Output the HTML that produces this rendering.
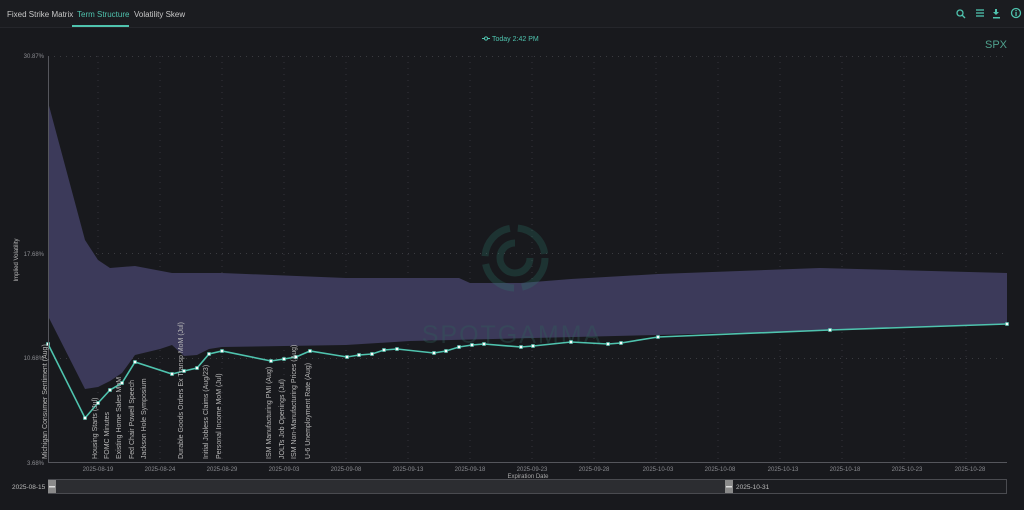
<!DOCTYPE html><html><head><meta charset="utf-8"><style>
body{margin:0;background:#18191d;width:1024px;height:505px;overflow:hidden;font-family:"Liberation Sans",sans-serif}
</style></head><body>
<svg width="1024" height="505" xmlns="http://www.w3.org/2000/svg" font-family="Liberation Sans, sans-serif">
<rect width="1024" height="505" fill="#18191d"/>
<rect width="1024" height="27" fill="#1b1c20"/>
<line x1="0" y1="27.5" x2="1024" y2="27.5" stroke="#25262b"/>
<text x="7" y="17" font-size="8" fill="#c8c8c8">Fixed Strike Matrix</text>
<text x="77" y="17" font-size="8" fill="#4fc3ae">Term Structure</text>
<rect x="72" y="25" width="57" height="2" fill="#4fc3ae"/>
<text x="134" y="17" font-size="8" fill="#c8c8c8">Volatility Skew</text>
<g fill="none" stroke="#4fc3ae" stroke-width="1.3">
<circle cx="960" cy="13" r="3"/><line x1="962" y1="15" x2="965" y2="18"/>
<line x1="976" y1="10" x2="984" y2="10"/><line x1="976" y1="13" x2="984" y2="13"/><line x1="976" y1="16" x2="984" y2="16"/>
<circle cx="1016" cy="13" r="4.5"/>
</g>
<path d="M995 9h2v3h2l-3 3-3-3h2z M993 17h7v1.5h-7z" fill="#4fc3ae"/>
<rect x="1015.4" y="12" width="1.3" height="4" fill="#4fc3ae"/><rect x="1015.4" y="10" width="1.3" height="1.2" fill="#4fc3ae"/>
<line x1="482" y1="38.5" x2="490" y2="38.5" stroke="#4fc3ae"/><circle cx="486" cy="38.5" r="1.6" fill="#18191d" stroke="#4fc3ae"/>
<text x="492" y="41" font-size="7" fill="#4fc3ae">Today 2:42 PM</text>
<text x="1007" y="48" font-size="11" fill="#4fa18e" text-anchor="end">SPX</text>
<g stroke="#3a3b40" stroke-dasharray="1 5" stroke-width="1">
<line x1="48" y1="56.5" x2="1007" y2="56.5"/><line x1="48" y1="253.5" x2="1007" y2="253.5"/><line x1="48" y1="358.5" x2="1007" y2="358.5"/>
</g>
<g stroke="#33343a" stroke-dasharray="1 5">
<path d="M98 56V462M160 56V462M222 56V462M284 56V462M346 56V462M408 56V462M470 56V462M532 56V462M594 56V462M656 56V462M718 56V462M780 56V462M842 56V462M904 56V462M966 56V462"/>
</g>
<path d="M48 102L85 240L98 260L110 268L135 266L172 273L222 273L346 278L396 278L459 278L470 283L521 283L571 279L658 274L820 268L1007 273L1007 324L830 330L658 335L410 341L346 345L222 347L209 349L197 355L184 356L172 345L160 349L135 355L122 373L110 381L98 387L85 389L48 316Z" fill="#3c3a5a"/>
<g opacity="0.25" fill="none" stroke="#2f8070" stroke-width="7">
<circle cx="515" cy="258" r="30" stroke-dasharray="40 8"/><path d="M530 258A15 15 0 1 1 515 243"/>
</g>
<text x="512" y="343" font-size="25" fill="#2f5f5a" opacity="0.35" text-anchor="middle" letter-spacing="2">SPOTGAMMA</text>
<polyline fill="none" stroke="#4fc3ae" stroke-width="1.6" points="48,344 85,418 98,403 110,390 122,383 135,362 172,374 184,371 197,368 209,354 222,351 271,361 284,359 296,357 310,351 347,357 359,355 372,354 384,350 397,349 434,353 446,351 459,347 472,345 484,344 521,347 533,346 571,342 608,344 621,343 658,337 830,330 1007,324"/>
<g fill="#ffffff" stroke="#4fc3ae" stroke-width="0.6">
<rect x="46.5" y="342.5" width="3" height="3"/><rect x="83.5" y="416.5" width="3" height="3"/><rect x="96.5" y="401.5" width="3" height="3"/><rect x="108.5" y="388.5" width="3" height="3"/><rect x="120.5" y="381.5" width="3" height="3"/><rect x="133.5" y="360.5" width="3" height="3"/><rect x="170.5" y="372.5" width="3" height="3"/><rect x="182.5" y="369.5" width="3" height="3"/><rect x="195.5" y="366.5" width="3" height="3"/><rect x="207.5" y="352.5" width="3" height="3"/><rect x="220.5" y="349.5" width="3" height="3"/><rect x="269.5" y="359.5" width="3" height="3"/><rect x="282.5" y="357.5" width="3" height="3"/><rect x="294.5" y="355.5" width="3" height="3"/><rect x="308.5" y="349.5" width="3" height="3"/><rect x="345.5" y="355.5" width="3" height="3"/><rect x="357.5" y="353.5" width="3" height="3"/><rect x="370.5" y="352.5" width="3" height="3"/><rect x="382.5" y="348.5" width="3" height="3"/><rect x="395.5" y="347.5" width="3" height="3"/><rect x="432.5" y="351.5" width="3" height="3"/><rect x="444.5" y="349.5" width="3" height="3"/><rect x="457.5" y="345.5" width="3" height="3"/><rect x="470.5" y="343.5" width="3" height="3"/><rect x="482.5" y="342.5" width="3" height="3"/><rect x="519.5" y="345.5" width="3" height="3"/><rect x="531.5" y="344.5" width="3" height="3"/><rect x="569.5" y="340.5" width="3" height="3"/><rect x="606.5" y="342.5" width="3" height="3"/><rect x="619.5" y="341.5" width="3" height="3"/><rect x="656.5" y="335.5" width="3" height="3"/><rect x="828.5" y="328.5" width="3" height="3"/><rect x="1005.5" y="322.5" width="3" height="3"/>
</g>
<line x1="48.5" y1="56" x2="48.5" y2="463" stroke="#55565c"/>
<line x1="48" y1="462.5" x2="1007" y2="462.5" stroke="#55565c"/>
<g font-size="6" fill="#8a8b90" text-anchor="end">
<text x="44" y="58">30.87%</text><text x="44" y="256">17.68%</text><text x="44" y="360">10.68%</text><text x="44" y="465">3.68%</text>
</g>
<text transform="translate(18,260) rotate(-90)" font-size="6" fill="#bbb" text-anchor="middle">Implied Volatility</text>
<g font-size="6" fill="#8a8b90" text-anchor="middle">
<text x="98" y="471">2025-08-19</text><text x="160" y="471">2025-08-24</text><text x="222" y="471">2025-08-29</text><text x="284" y="471">2025-09-03</text><text x="346" y="471">2025-09-08</text><text x="408" y="471">2025-09-13</text><text x="470" y="471">2025-09-18</text><text x="532" y="471">2025-09-23</text><text x="594" y="471">2025-09-28</text><text x="658" y="471">2025-10-03</text><text x="720" y="471">2025-10-08</text><text x="783" y="471">2025-10-13</text><text x="845" y="471">2025-10-18</text><text x="907" y="471">2025-10-23</text><text x="970" y="471">2025-10-28</text>
</g>
<text x="528" y="478" font-size="6" fill="#aaa" text-anchor="middle">Expiration Date</text>
<g font-size="7" fill="#b8b8b8">
<text transform="translate(47,459) rotate(-90)">Michigan Consumer Sentiment (Aug)</text>
<text transform="translate(97,459) rotate(-90)">Housing Starts (Jul)</text>
<text transform="translate(109,459) rotate(-90)">FOMC Minutes</text>
<text transform="translate(121,459) rotate(-90)">Existing Home Sales MoM</text>
<text transform="translate(134,459) rotate(-90)">Fed Chair Powell Speech</text>
<text transform="translate(146,459) rotate(-90)">Jackson Hole Symposium</text>
<text transform="translate(183,459) rotate(-90)">Durable Goods Orders Ex Transp MoM (Jul)</text>
<text transform="translate(208,459) rotate(-90)">Initial Jobless Claims (Aug/23)</text>
<text transform="translate(221,459) rotate(-90)">Personal Income MoM (Jul)</text>
<text transform="translate(271,459) rotate(-90)">ISM Manufacturing PMI (Aug)</text>
<text transform="translate(284,459) rotate(-90)">JOLTs Job Openings (Jul)</text>
<text transform="translate(296,459) rotate(-90)">ISM Non-Manufacturing Prices (Aug)</text>
<text transform="translate(310,459) rotate(-90)">U-6 Unemployment Rate (Aug)</text>
</g>
<rect x="48.5" y="479.5" width="958" height="14" fill="#1b1c20" stroke="#4a4b50"/>
<rect x="55" y="480" width="671" height="13" fill="#2c2d31"/>
<rect x="48" y="480" width="8" height="13" fill="#8a8a8a"/><rect x="49" y="486" width="6" height="1.5" fill="#ddd"/>
<rect x="725" y="480" width="8" height="13" fill="#8a8a8a"/><rect x="726" y="486" width="6" height="1.5" fill="#ddd"/>
<text x="12" y="489" font-size="6.5" fill="#bbb">2025-08-15</text>
<text x="736" y="489" font-size="6.5" fill="#bbb">2025-10-31</text>
</svg>
</body></html>
